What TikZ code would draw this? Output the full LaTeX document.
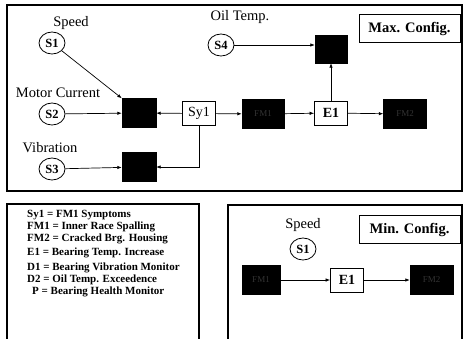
\documentclass[tikz,border=0pt]{standalone}
\usepackage{fontspec}
\setmainfont{Liberation Serif}
\usetikzlibrary{arrows.meta,shapes.geometric}
\tikzset{
  sens/.style={ellipse,draw,thick,minimum width=26pt,minimum height=22pt,inner sep=0pt,
    font=\fontsize{12.5}{13}\selectfont\bfseries},
  blk/.style={fill=black,draw=black,minimum width=#1,minimum height=29pt,inner sep=0pt,
    text=black!80,font=\fontsize{9}{10}\selectfont},
  blk/.default=34pt,
  wbox/.style={draw,thick,fill=white,minimum width=33pt,minimum height=24pt,inner sep=0pt,
    font=\fontsize{14}{15}\selectfont\bfseries},
  cfg/.style={draw,thick,minimum width=101pt,minimum height=28pt,inner sep=0pt,
    font=\fontsize{14.5}{15}\selectfont\bfseries},
  lbl/.style={font=\fontsize{14.5}{15}\selectfont},
  legend/.style={anchor=west,inner sep=0pt,font=\fontsize{11}{12}\selectfont\bfseries},
  conn/.style={-{Latex[length=4.5pt,width=3.5pt]},line width=0.7pt},
  panel/.style={line width=1.2pt}
}

\begin{document}
\begin{tikzpicture}[x=1pt,y=-1pt]
      \useasboundingbox (0,0) rectangle (463,338);
      % panels
      \draw [panel] (7,5) rectangle (462,191);
      \draw [panel] (7,345) -- (7,204) -- (199,204) -- (199,345);
      \draw [panel] (228,345) -- (228,205) -- (462,205) -- (462,345);
      % max. config.
      \node [lbl] (LS1) at (71,23) {Speed};
      \node [sens] (S1) at (52,43) {S1};
      \node [lbl] (LS2) at (58,93) {Motor Current};
      \node [sens] (S2) at (52,114) {S2};
      \node [lbl] (LS3) at (50,148) {Vibration};
      \node [sens] (S3) at (52,169) {S3};
      \node [lbl] (LS4) at (240,17) {Oil Temp.};
      \node [sens] (S4) at (221,45) {S4};
      \node [blk] (P) at (139,113) {};
      \node [blk] (D1) at (139,167) {};
      \node [wbox,font=\fontsize{14}{15}\selectfont] (Sy1) at (199,113.5) {Sy1};
      \node [blk=42pt] (FM1) at (263,114) {FM1};
      \node [wbox] (E1) at (331,113) {E1};
      \node [blk=43pt] (FM2) at (405,114) {FM2};
      \node [blk=32pt,minimum height=28pt] (D2) at (331,49) {};
      \node [cfg] (MAX) at (409.5,28.5) {Max. Config.};
      \draw [conn] (S1) -- (P.north west);
      \draw [conn] (S2) -- (P);
      \draw [conn] (Sy1) -- (P);
      \draw [conn] (Sy1) |- (D1);
      \draw [conn] (S3) -- (D1);
      \draw [conn] (Sy1) -- (FM1);
      \draw [conn] (FM1) -- (E1);
      \draw [conn] (E1) -- (FM2);
      \draw [conn] (E1) -- (D2);
      \draw [conn] (S4) -- (S4 -| D2.west);
      % legend
      \foreach \y/\t [count=\i] in {215/{Sy1 = FM1 Symptoms},227/{FM1 = Inner Race Spalling},
          239/{FM2 = Cracked Brg. Housing},253/{E1 = Bearing Temp. Increase},
          268/{D1 = Bearing Vibration Monitor},280/{D2 = Oil Temp. Exceedence}}
        \node [legend] (L\i) at (27,\y) {\t};
      \node [legend] (L7) at (32,292) {P = Bearing Health Monitor};
      % min. config.
      \node [lbl] (LS5) at (303,225) {Speed};
      \node [sens] (S5) at (303,249) {S1};
      \node [cfg] (MIN) at (409.5,229.5) {Min. Config.};
      \node [blk=38pt] (FM3) at (261,280) {FM1};
      \node [wbox] (E2) at (347,280) {E1};
      \node [blk=43pt] (FM4) at (431.5,280) {FM2};
      \draw [conn] (FM3) -- (E2);
      \draw [conn] (E2) -- (FM4);
\end{tikzpicture}
\end{document}
